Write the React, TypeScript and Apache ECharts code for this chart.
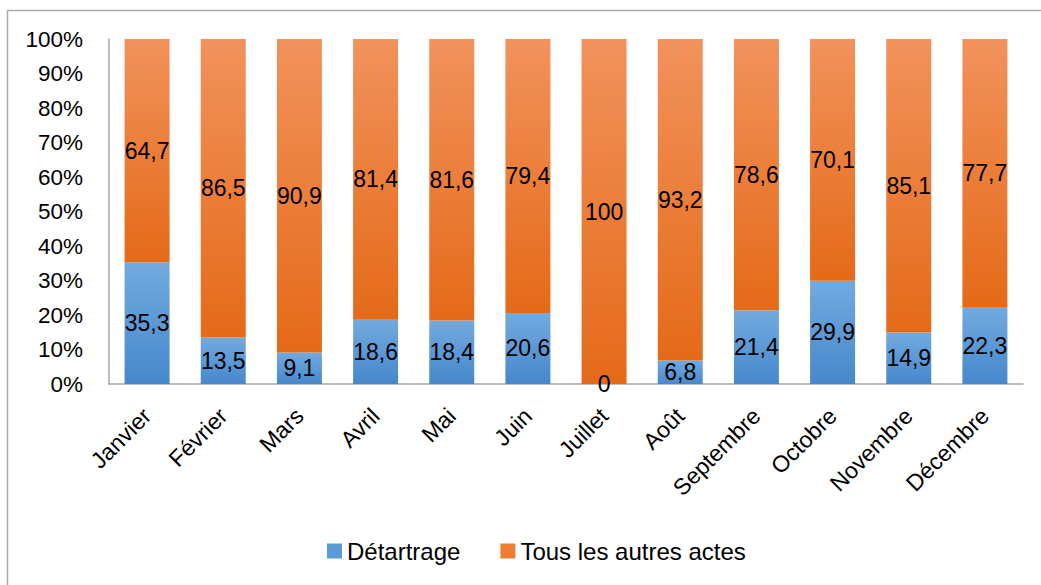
import React, { useEffect, useRef } from "react";
import * as echarts from "echarts";

const months = ["Janvier", "Février", "Mars", "Avril", "Mai", "Juin", "Juillet", "Août", "Septembre", "Octobre", "Novembre", "Décembre"];
const detartrage = [35.3, 13.5, 9.1, 18.6, 18.4, 20.6, 0, 6.8, 21.4, 29.9, 14.9, 22.3];
const autres = [64.7, 86.5, 90.9, 81.4, 81.6, 79.4, 100, 93.2, 78.6, 70.1, 85.1, 77.7];
const seriesNames = ["Détartrage", "Tous les autres actes"];

const FONT = "'Liberation Sans', Arial, sans-serif";

export default function App() {
  const ref = useRef<HTMLDivElement>(null);
  useEffect(() => {
    document.body.style.margin = "0";
    const chart = echarts.init(ref.current!, null, { renderer: "svg" });
    const fmt = (p: any) => String(p.value).replace(".", ",");
    const blue = new echarts.graphic.LinearGradient(0, 0, 0, 1, [
      { offset: 0, color: "#72aade" },
      { offset: 1, color: "#4688cc" },
    ]);
    const orange = new echarts.graphic.LinearGradient(0, 0, 0, 1, [
      { offset: 0, color: "#f2925c" },
      { offset: 1, color: "#e46a18" },
    ]);
    const label = {
      show: true,
      position: "inside" as const,
      color: "#000",
      fontSize: 23,
      fontFamily: FONT,
      formatter: fmt,
    };
    chart.setOption({
      animation: false,
      graphic: [
        {
          type: "rect",
          shape: { x: 7.5, y: 10.5, width: 1100, height: 700 },
          style: { fill: "none", stroke: "#ababab", lineWidth: 1.5 },
          silent: true,
        },
      ],
      grid: { left: 109, right: 18, top: 39, bottom: 201, containLabel: false },
      legend: {
        top: 534,
        left: 322,
        itemWidth: 15,
        itemHeight: 15,
        itemGap: 40,
        icon: "rect",
        textStyle: { fontSize: 24, fontFamily: FONT, color: "#000" },
        data: [
          { name: seriesNames[0], itemStyle: { color: "#5b9bd5" } },
          { name: seriesNames[1], itemStyle: { color: "#ed7d31" } },
        ],
      },
      xAxis: {
        type: "category",
        data: months,
        axisLine: { lineStyle: { color: "#a6a6a6", width: 1.5 } },
        axisTick: { show: false },
        axisLabel: { rotate: 45, fontSize: 23, fontFamily: FONT, color: "#000", margin: 28, interval: 0 },
      },
      yAxis: {
        type: "value",
        min: 0,
        max: 100,
        interval: 10,
        axisLine: { show: true, lineStyle: { color: "#a6a6a6", width: 1.5 } },
        axisTick: { show: false },
        splitLine: { show: false },
        axisLabel: { formatter: "{value}%", fontSize: 22.5, fontFamily: FONT, color: "#000", margin: 26 },
      },
      series: [
        {
          name: seriesNames[0],
          type: "bar",
          stack: "total",
          barWidth: 45,
          data: detartrage,
          itemStyle: { color: blue },
          label,
        },
        {
          name: seriesNames[1],
          type: "bar",
          stack: "total",
          barWidth: 45,
          data: autres,
          itemStyle: { color: orange },
          label,
        },
      ],
    });
    return () => chart.dispose();
  }, []);
  return <div ref={ref} style={{ width: 1041, height: 585 }} />;
}
